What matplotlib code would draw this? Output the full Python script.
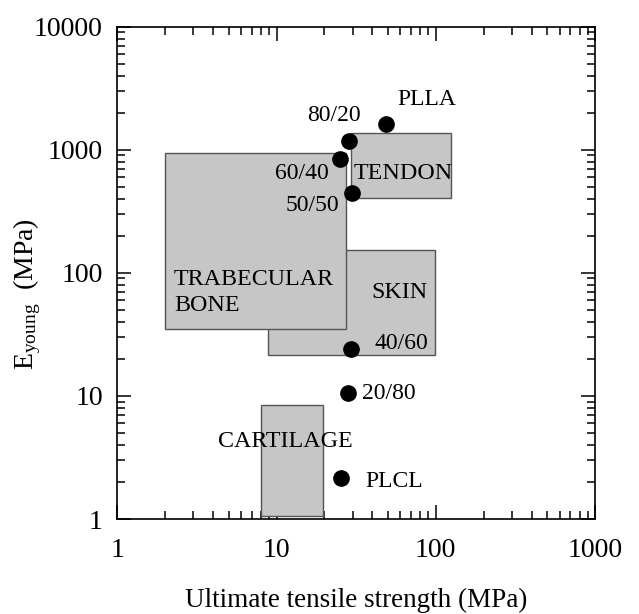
import matplotlib.pyplot as plt
from matplotlib.patches import Rectangle
from matplotlib.ticker import LogLocator, NullFormatter, FixedFormatter, FixedLocator

plt.rcParams['font.family'] = ['Liberation Serif', 'DejaVu Serif']
plt.rcParams['mathtext.fontset'] = 'custom'
plt.rcParams['mathtext.rm'] = 'Liberation Serif'
plt.rcParams['mathtext.it'] = 'Liberation Serif:italic'

# tissue regions: (name, strength lo, strength hi, modulus lo, modulus hi)
tissues = ["SKIN", "TRABECULAR\nBONE", "TENDON", "CARTILAGE"]
uts_lo = [8.8, 2.0, 29.5, 8.0]
uts_hi = [99, 27.3, 125, 19.5]
mod_lo = [21.5, 35, 403, 1.05]
mod_hi = [153, 950, 1375, 8.5]

# polymers
polymers = ["PLLA", "80/20", "60/40", "50/50", "40/60", "20/80", "PLCL"]
poly_uts = [48.7, 28.7, 25.0, 29.7, 29.2, 28.3, 25.3]
poly_mod = [1620, 1170, 836, 449, 24.0, 10.5, 2.17]

# label placement (text positions in data units, alignment)
tissue_txt = [(59, 69.8, "center"), (2.27, 69.6, "left"), (62.3, 647, "center"), (11.4, 4.3, "center")]
poly_txt = [(57.7, 2567, "left"), (23.1, 1914, "center"), (14.5, 647, "center"),
            (16.8, 355, "center"), (60.4, 26.9, "center"), (34.3, 10.4, "left"),
            (36, 2.01, "left")]

fig = plt.figure(figsize=(6.39, 6.14), dpi=100)
ax = fig.add_axes([0.1836, 0.1547, 0.7475, 0.8018])
ax.set_xscale("log")
ax.set_yscale("log")
ax.set_xlim(1, 1000)
ax.set_ylim(1, 10000)

for i in range(len(tissues)):
    ax.add_patch(Rectangle((uts_lo[i], mod_lo[i]), uts_hi[i] - uts_lo[i], mod_hi[i] - mod_lo[i],
                           facecolor="#c6c6c6", edgecolor="#555555", linewidth=1.0, zorder=2))
    tx, ty, ha = tissue_txt[i]
    ax.text(tx, ty, tissues[i], ha=ha, va="center", fontsize=17.3, linespacing=1.3, zorder=4)

ax.plot(poly_uts, poly_mod, "o", color="black", markersize=11, zorder=5)
for i, name in enumerate(polymers):
    tx, ty, ha = poly_txt[i]
    ax.text(tx, ty, name, ha=ha, va="center", fontsize=17, zorder=6)

ax.xaxis.set_major_locator(FixedLocator([1, 10, 100, 1000]))
ax.xaxis.set_major_formatter(FixedFormatter(["1", "10", "100", "1000"]))
ax.yaxis.set_major_locator(FixedLocator([1, 10, 100, 1000, 10000]))
ax.yaxis.set_major_formatter(FixedFormatter(["1", "10", "100", "1000", "10000"]))
ax.xaxis.set_minor_locator(LogLocator(base=10, subs=range(2, 10)))
ax.yaxis.set_minor_locator(LogLocator(base=10, subs=range(2, 10)))
ax.xaxis.set_minor_formatter(NullFormatter())
ax.yaxis.set_minor_formatter(NullFormatter())
ax.tick_params(which="both", direction="in", top=True, right=True, width=1.1, labelsize=20)
ax.tick_params(which="major", length=10)
ax.tick_params(which="minor", length=5.5)
ax.tick_params(axis="x", which="major", pad=14)
ax.tick_params(axis="y", which="major", pad=10.5)
for s in ax.spines.values():
    s.set_linewidth(1.2)

ax.set_xlabel("Ultimate tensile strength (MPa)", fontsize=19.5)
ax.set_ylabel(r"E$_{\mathrm{young}}$  (MPa)", fontsize=20)
ax.xaxis.set_label_coords(0.5, -0.14)
ax.yaxis.set_label_coords(-0.155, 0.457)

fig.savefig("out.png", dpi=100)
